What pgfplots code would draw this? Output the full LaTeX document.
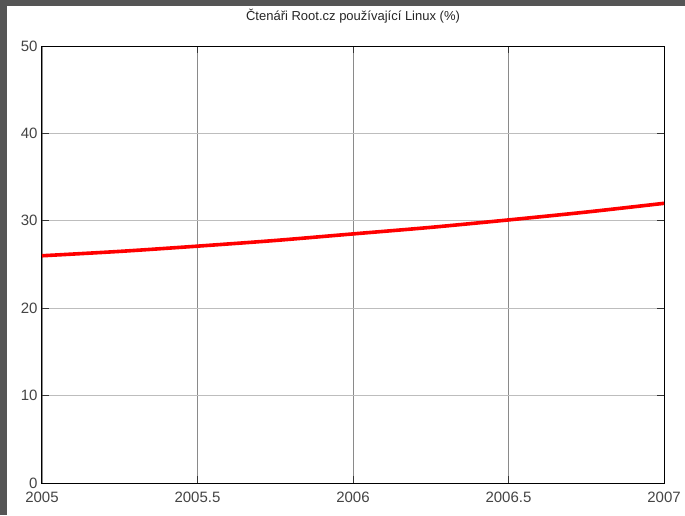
\documentclass[border=0pt]{standalone}
\usepackage{pgfplots}
\pgfplotsset{compat=1.18}
\usepackage{fontspec}
\setmainfont{Liberation Sans}
\definecolor{frame}{HTML}{555555}
\definecolor{vgrid}{HTML}{8A8A8A}
\definecolor{hgrid}{HTML}{BDBDBD}
\definecolor{lbl}{HTML}{444444}
\begin{document}
\begin{tikzpicture}[x=1pt,y=1pt]
\fill[frame] (0,0) rectangle (685,515);
\fill[white] (7,0) rectangle (685,509);
\begin{axis}[
  at={(42pt,32pt)}, anchor=south west,
  scale only axis, width=622pt, height=437pt,
  xmin=2005, xmax=2007, ymin=0, ymax=50,
  xtick={2005,2005.5,2006,2006.5,2007},
  xticklabels={2005,2005.5,2006,2006.5,2007},
  ytick={0,10,20,30,40,50},
  xmajorgrids, ymajorgrids,
  x grid style={vgrid, line width=0.9pt},
  y grid style={hgrid, line width=0.9pt},
  axis line style={black, line width=1pt},
  tick style={black!80, line width=1pt},
  major tick length=7pt,
  tick align=inside,
  ticklabel style={font=\fontsize{15}{17}\selectfont, text=lbl},
  xticklabel style={yshift=-5pt},
  yticklabel style={xshift=-1pt},
  /pgf/number format/assume math mode=true,
  title={Čtenáři Root.cz používající Linux (\%)},
  title style={at={(axis description cs:0.5,1)}, anchor=center, yshift=24pt, font=\fontsize{13}{15}\selectfont, text=black!85},
  clip=true,
]
\addplot[red, line width=3.6pt, smooth] coordinates {
(2005,26.0) (2005.25,26.5) (2005.5,27.1) (2005.75,27.75) (2006,28.5) (2006.25,29.25) (2006.5,30.1) (2006.75,31.0) (2007,32.0)
};
\end{axis}
\end{tikzpicture}
\end{document}
